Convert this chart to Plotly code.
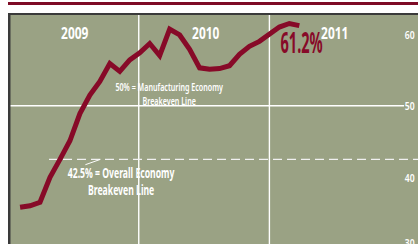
import json
import plotly.graph_objects as go

# ---- data ----
months = [
    "2009-01", "2009-02", "2009-03", "2009-04", "2009-05", "2009-06", "2009-07",
    "2009-08", "2009-09", "2009-10", "2009-11", "2009-12", "2010-01", "2010-02",
    "2010-03", "2010-04", "2010-05", "2010-06", "2010-07", "2010-08", "2010-09",
    "2010-10", "2010-11", "2010-12", "2011-01", "2011-02", "2011-03", "2011-04",
    "2011-05",
]
index_values = [
    35.8, 36.0, 36.5, 40.0, 42.5, 45.1, 48.9, 51.5, 53.4, 55.9, 54.8, 56.4,
    57.4, 58.7, 57.0, 60.7, 59.9, 57.9, 55.3, 55.1, 55.2, 55.6, 57.2, 58.3,
    59.0, 60.1, 61.0, 61.5, 61.2,
]
year_labels = ["2009", "2010", "2011"]
y_ticks = [30, 40, 50, 60]
manufacturing_breakeven = 50
overall_breakeven = 42.5
latest_label = "61.2%"

# ---- style ----
BG = "#9aa284"
RED = "#870a28"
DARK = "#3a3a3a"
FONT = "Noto Sans, DejaVu Sans, sans-serif"

Y0, Y1 = 30.66, 62.83

fig = go.Figure()
fig.add_trace(go.Scatter(
    x=months, y=index_values, mode="lines",
    line=dict(color=RED, width=5),
    hoverinfo="skip", showlegend=False,
))

shapes = [
    dict(type="rect", xref="paper", yref="paper", x0=0, x1=1, y0=1.039, y1=1.052,
         fillcolor="#7e0b26", line=dict(width=0)),
    dict(type="line", xref="x", yref="paper", x0=11.9, x1=11.9, y0=0, y1=1,
         line=dict(color="white", width=1.4), layer="below"),
    dict(type="line", xref="x", yref="paper", x0=25.0, x1=25.0, y0=0, y1=1,
         line=dict(color="white", width=1.4), layer="below"),
    dict(type="line", xref="paper", yref="y", x0=0, x1=0.966,
         y0=manufacturing_breakeven, y1=manufacturing_breakeven,
         line=dict(color="white", width=1.3), layer="below"),
    dict(type="line", xref="paper", yref="y", x0=0.1, x1=1,
         y0=overall_breakeven, y1=overall_breakeven,
         line=dict(color="#f0f0f0", width=1.3, dash="9px,5px"), layer="below"),
    dict(type="line", xref="x", yref="y", x0=6.55, y0=41.75, x1=8.06, y1=overall_breakeven,
         line=dict(color="white", width=1), layer="below"),
    dict(type="line", xref="paper", yref="paper", x0=0, x1=1, y0=1.0, y1=1.0,
         line=dict(color=DARK, width=2)),
    dict(type="line", xref="paper", yref="paper", x0=0.003, x1=0.003, y0=0, y1=1.004,
         line=dict(color=DARK, width=2.5)),
]

def font(size, color="white", weight="normal"):
    return dict(family=FONT, size=size, color=color, weight=weight)

annotations = []
squeeze = []  # horizontal condensing factor for each annotation (condensed type)
for lab, pos in zip(year_labels, [5.5, 18.6, 31.5]):
    annotations.append(dict(x=pos, y=0.917, xref="x", yref="paper", text=lab,
                            showarrow=False, xanchor="center", yanchor="middle",
                            font=font(15.5, weight="bold")))
    squeeze.append(0.77)
for t in y_ticks:
    yy = max(t, Y0 + 0.2)  # bottom label sits partly off the lower edge
    annotations.append(dict(x=1, y=yy, xref="paper", yref="y", text=str(t),
                            showarrow=False, xanchor="right", yanchor="middle",
                            align="right", xshift=-1, font=font(11, weight=600)))
    squeeze.append(0.78)
annotations += [
    dict(x=28.2, y=58.9, xref="x", yref="y", text=latest_label, showarrow=False,
         xanchor="center", yanchor="middle", font=font(28, RED, "bold")),
    dict(x=15.0, y=51.7, xref="x", yref="y",
         text="50% = Manufacturing Economy<br>Breakeven Line", showarrow=False,
         xanchor="center", yanchor="middle", align="center", font=font(10.5, weight=600)),
    dict(x=10.17, y=39.43, xref="x", yref="y",
         text="42.5% = Overall Economy<br>Breakeven Line", showarrow=False,
         xanchor="center", yanchor="middle", align="center", font=font(13.3, weight="bold")),
]
squeeze += [0.52, 0.68, 0.65]

fig.update_layout(
    width=418, height=244,
    margin=dict(l=8, r=0, t=14, b=0, pad=0),
    paper_bgcolor="white", plot_bgcolor=BG,
    shapes=shapes, annotations=annotations,
    xaxis=dict(type="category", range=[-1.21, 39.9], visible=False),
    xaxis2=dict(overlaying="x", side="top", anchor="y", range=[-1.58, 57.29],
                tickmode="array", tickvals=list(range(54)), ticks="inside",
                ticklen=4, tickwidth=1, tickcolor="#e6e6e6",
                showticklabels=False, showgrid=False, zeroline=False, showline=False),
    yaxis=dict(range=[Y0, Y1], showticklabels=False, ticks="", showgrid=False,
               zeroline=False, showline=False),
    showlegend=False,
)

post = """
document.body.style.margin = '0';
var gd = document.getElementById('{plot_id}');
var sq = %s;
gd.querySelectorAll('g.annotation').forEach(function (g) {
  var i = +g.getAttribute('data-index');
  var s = sq[i];
  var t = g.querySelector('text.annotation-text');
  if (!t || !s || s === 1) return;
  var x = parseFloat(t.getAttribute('x')) || 0;
  var prev = t.getAttribute('transform');
  var mine = 'translate(' + x + ',0) scale(' + s + ',1) translate(' + (-x) + ',0)';
  t.setAttribute('transform', (prev ? prev + ' ' : '') + mine);
});
""" % json.dumps(squeeze)

fig.write_html("out.html", post_script=post,
               config=dict(displayModeBar=False, staticPlot=True))
